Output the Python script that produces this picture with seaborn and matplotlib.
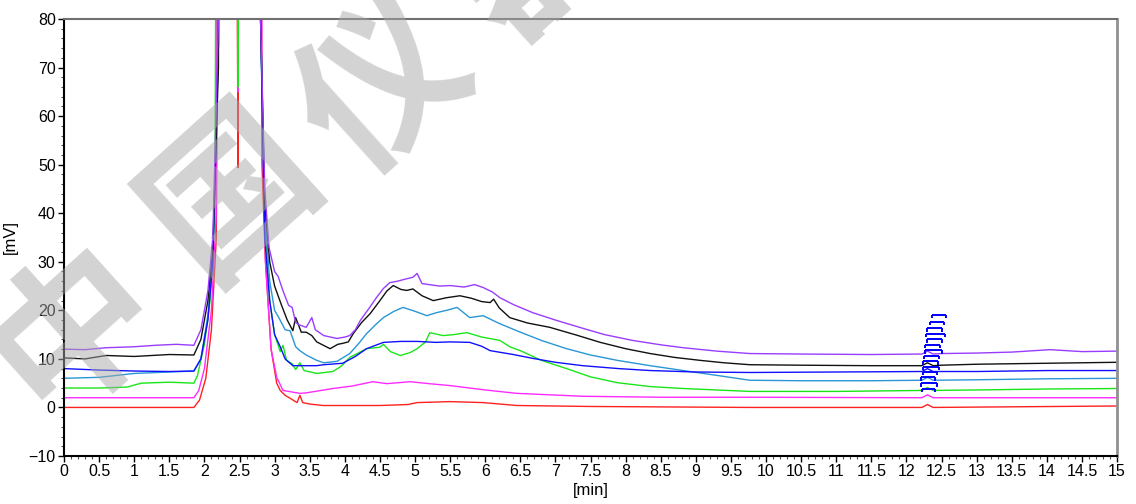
import numpy as np
import pandas as pd
import matplotlib
matplotlib.use("Agg")
import matplotlib.pyplot as plt
from matplotlib.ticker import MultipleLocator
import seaborn as sns

# Chromatogram traces (time in min, signal in mV).
# Peak tops are off-scale, so they are given a large value and clipped by the axis.
purple_t = [0, 0.3, 0.6, 1.0, 1.3, 1.6, 1.85, 1.95, 2.05, 2.12, 2.2, 2.25, 2.45, 2.5, 2.55, 2.76,
            2.8, 2.86, 2.92, 3.0, 3.05, 3.12, 3.2, 3.25, 3.3, 3.35, 3.45, 3.53, 3.58, 3.7, 3.89,
            4.0, 4.07, 4.15, 4.22, 4.35, 4.45, 4.55, 4.64, 4.75, 4.88, 4.97, 5.03, 5.1, 5.2, 5.35,
            5.5, 5.7, 5.85, 5.97, 6.1, 6.21, 6.4, 6.68, 7.0, 7.39, 7.7, 8.1, 8.5, 8.82, 9.3, 9.77,
            10.5, 11.5, 12.22, 12.3, 12.38, 12.5, 13.0, 13.5, 14.05, 14.5, 15.0]
purple_v = [12.0, 11.9, 12.3, 12.5, 12.8, 13.0, 12.8, 16.0, 24.0, 35.0, 80.0, 300, 160, 150, 300, 300,
            80.0, 45.0, 33.0, 28.0, 27.0, 24.0, 21.0, 20.6, 17.5, 17.0, 16.5, 18.5, 16.0, 14.8, 14.2,
            14.5, 14.8, 16.0, 17.9, 20.5, 22.6, 24.5, 25.7, 26.0, 26.5, 26.8, 27.6, 25.5, 25.3, 25.0,
            25.1, 24.8, 25.3, 24.7, 23.8, 22.6, 21.2, 19.5, 18.0, 16.3, 15.0, 13.8, 12.9, 12.3, 11.6, 11.1,
            11.0, 10.9, 11.0, 11.6, 11.0, 11.1, 11.2, 11.4, 11.9, 11.5, 11.6]

black_t = [0, 0.3, 0.6, 1.0, 1.5, 1.85, 1.95, 2.05, 2.12, 2.2, 2.25, 2.45, 2.5, 2.55, 2.76,
           2.8, 2.86, 2.93, 3.0, 3.1, 3.18, 3.26, 3.3, 3.38, 3.45, 3.53, 3.6, 3.79, 3.9, 3.97,
           4.05, 4.12, 4.24, 4.36, 4.5, 4.6, 4.69, 4.8, 4.88, 4.97, 5.1, 5.26, 5.45, 5.64, 5.8,
           5.95, 6.07, 6.12, 6.2, 6.35, 6.6, 6.92, 7.3, 7.64, 8.0, 8.35, 8.7, 9.06, 9.4, 9.77,
           10.5, 11.5, 12.22, 12.3, 12.38, 12.5, 13.0, 13.5, 14.0, 14.5, 15.0]
black_v = [10.2, 10.0, 10.7, 10.5, 10.9, 10.8, 14.0, 22.0, 33.0, 70.0, 300, 160, 150, 300, 300,
           80.0, 42.0, 30.0, 25.0, 21.0, 18.0, 15.8, 18.5, 15.5, 15.5, 14.8, 13.5, 12.1, 13.0, 13.2,
           13.5, 15.2, 17.5, 19.3, 22.0, 24.0, 25.1, 24.3, 24.1, 24.4, 23.0, 22.0, 22.6, 23.0, 22.5,
           21.8, 21.6, 22.3, 20.5, 18.5, 17.4, 16.5, 14.9, 13.4, 12.1, 11.1, 10.3, 9.7, 9.2, 8.8,
           8.7, 8.6, 8.6, 9.2, 8.6, 8.7, 8.9, 9.0, 9.1, 9.2, 9.3]

blue_t = [0, 0.5, 1.0, 1.5, 1.85, 1.95, 2.05, 2.12, 2.2, 2.25, 2.45, 2.5, 2.55, 2.76,
          2.8, 2.86, 2.93, 3.0, 3.08, 3.15, 3.26, 3.45, 3.6, 3.7, 3.97, 4.15, 4.31, 4.55, 4.8,
          5.03, 5.3, 5.5, 5.78, 5.95, 6.07, 6.4, 6.68, 7.0, 7.39, 7.9, 8.35, 9.0, 9.77, 11.0,
          12.22, 12.3, 12.38, 13.0, 14.0, 15.0]
blue_v = [8.0, 7.7, 7.5, 7.4, 7.5, 10.0, 18.0, 30.0, 75.0, 300, 160, 150, 300, 300,
          80.0, 35.0, 22.0, 15.0, 12.5, 10.0, 8.6, 8.6, 8.6, 8.8, 9.1, 10.5, 12.1, 13.4, 13.6,
          13.6, 13.4, 13.5, 13.4, 12.6, 11.7, 10.9, 10.1, 9.3, 8.6, 8.0, 7.6, 7.3, 7.2, 7.3,
          7.4, 8.0, 7.4, 7.4, 7.6, 7.6]

teal_t = [0, 0.5, 1.0, 1.5, 1.85, 1.95, 2.05, 2.12, 2.2, 2.25, 2.45, 2.5, 2.55, 2.76,
          2.8, 2.86, 2.93, 3.0, 3.06, 3.15, 3.22, 3.3, 3.36, 3.45, 3.6, 3.7, 3.89, 4.07, 4.2,
          4.31, 4.45, 4.55, 4.7, 4.83, 5.0, 5.17, 5.3, 5.45, 5.6, 5.78, 5.97, 6.2, 6.45, 6.8,
          7.16, 7.5, 7.88, 8.35, 8.82, 9.3, 9.77, 10.5, 11.5, 12.22, 12.3, 12.38, 13.0, 14.0, 15.0]
teal_v = [6.0, 6.2, 7.0, 7.3, 7.5, 10.0, 19.0, 30.0, 75.0, 300, 160, 150, 300, 300,
          80.0, 40.0, 26.0, 20.0, 18.5, 16.0, 15.8, 12.5, 11.7, 10.8, 9.7, 9.2, 9.5, 11.1, 13.2,
          15.2, 17.2, 18.5, 19.8, 20.6, 19.8, 18.9, 19.5, 20.0, 20.6, 18.5, 18.9, 17.3, 15.8, 13.8,
          12.1, 10.8, 9.7, 8.6, 7.6, 6.6, 5.6, 5.5, 5.5, 5.6, 6.2, 5.6, 5.7, 5.9, 6.0]

green_t = [0, 0.5, 0.9, 1.1, 1.5, 1.85, 1.9, 2.0, 2.08, 2.15, 2.21, 2.4, 2.48, 2.53, 2.76,
           2.8, 2.86, 2.93, 3.0, 3.08, 3.12, 3.17, 3.25, 3.3, 3.36, 3.42, 3.6, 3.83, 3.95, 4.07,
           4.31, 4.5, 4.55, 4.65, 4.79, 4.93, 5.03, 5.15, 5.21, 5.4, 5.55, 5.74, 5.95, 6.21, 6.35,
           6.5, 6.8, 7.16, 7.5, 7.88, 8.35, 8.82, 9.77, 11.0, 12.22, 12.3, 12.38, 13.0, 14.0, 15.0]
green_v = [4.0, 4.0, 4.2, 5.0, 5.2, 5.0, 6.5, 13.0, 22.0, 40.0, 300, 300, 66.0, 300, 300,
           80.0, 38.0, 22.0, 15.0, 11.5, 12.8, 9.7, 9.0, 7.8, 9.2, 7.6, 7.0, 7.4, 8.5, 10.3,
           12.1, 12.4, 13.0, 11.5, 10.7, 11.3, 12.1, 13.5, 15.4, 14.8, 15.0, 15.4, 14.5, 13.8, 12.5,
           11.7, 9.7, 8.0, 6.3, 5.1, 4.3, 3.9, 3.3, 3.3, 3.5, 4.1, 3.5, 3.6, 3.8, 3.9]

magenta_t = [0, 1.0, 1.85, 1.92, 2.0, 2.1, 2.17, 2.22, 2.4, 2.48, 2.55, 2.78,
             2.82, 2.87, 2.95, 3.03, 3.12, 3.36, 3.45, 3.83, 4.1, 4.4, 4.6, 4.93, 5.2, 5.5,
             6.0, 6.45, 7.39, 8.5, 9.77, 12.22, 12.3, 12.38, 15.0]
magenta_v = [2.0, 2.0, 2.0, 3.5, 8.0, 20.0, 40.0, 300, 300, 65.0, 300, 300,
             60.0, 30.0, 12.0, 6.2, 3.5, 2.9, 3.0, 3.9, 4.4, 5.3, 4.9, 5.3, 4.9, 4.5,
             3.6, 2.9, 2.3, 2.1, 2.1, 2.0, 2.6, 2.0, 2.0]

red_t = [0, 1.0, 1.85, 1.93, 2.02, 2.1, 2.17, 2.25, 2.39, 2.48, 2.51, 2.78,
         2.82, 2.87, 2.95, 3.03, 3.08, 3.15, 3.22, 3.32, 3.36, 3.4, 3.5, 3.69, 4.5, 4.9,
         5.03, 5.5, 5.97, 6.45, 7.5, 9.77, 12.22, 12.3, 12.38, 15.0]
red_v = [0.0, 0.0, 0.0, 1.5, 6.0, 16.0, 35.0, 300, 300, 49.4, 300, 300,
         50.0, 30.0, 12.0, 5.0, 3.5, 2.5, 1.9, 1.0, 2.5, 1.0, 0.7, 0.4, 0.4, 0.6,
         1.0, 1.2, 1.0, 0.4, 0.2, 0.0, 0.0, 0.6, 0.0, 0.3]

trace_names = ["purple", "black", "blue", "teal", "green", "magenta", "red"]
trace_colors = ["#9a3cff", "#111111", "#1010ff", "#2996d6", "#19e619", "#ff2aff", "#ff2020"]

# integration bracket markers around the small peak at ~12.3 min
bracket_level = [19.1, 17.6, 16.3, 15.2, 14.0, 12.9, 11.8, 10.6, 9.5, 8.4, 7.3, 6.2, 5.0, 3.9]
bracket_start = [12.36, 12.33, 12.30, 12.28, 12.30, 12.27, 12.26, 12.25, 12.24, 12.24, 12.23, 12.21, 12.21, 12.22]
bracket_end = [12.57, 12.53, 12.51, 12.55, 12.51, 12.48, 12.51, 12.46, 12.45, 12.47, 12.43, 12.41, 12.43, 12.41]

watermark_chars = ["中", "国", "仪", "器"]

all_t = [purple_t, black_t, blue_t, teal_t, green_t, magenta_t, red_t]
all_v = [purple_v, black_v, blue_v, teal_v, green_v, magenta_v, red_v]
frames = []
for name, t, v in zip(trace_names, all_t, all_v):
    frames.append(pd.DataFrame({"time": t, "signal": v, "trace": name}))
df = pd.concat(frames, ignore_index=True)

sns.set_theme(style="white")
plt.rcParams["font.family"] = ["Liberation Sans", "DejaVu Sans"]

fig = plt.figure(figsize=(11.36, 5.04), dpi=100)
ax = fig.add_axes([64 / 1136, 1 - 456 / 504, (1117 - 64) / 1136, (456 - 19) / 504])

sns.lineplot(data=df, x="time", y="signal", hue="trace", hue_order=trace_names[::-1],
             palette=dict(zip(trace_names, trace_colors)), estimator=None, sort=False,
             linewidth=1.0, legend=False, ax=ax)

# brackets
ax.hlines(bracket_level, bracket_start, bracket_end, color="#0000ff", lw=1.4, zorder=5)
ax.vlines(bracket_start, np.array(bracket_level) - 0.7, bracket_level, color="#0000ff", lw=1.4, zorder=5)
ax.vlines(bracket_end, np.array(bracket_level) - 0.7, bracket_level, color="#0000ff", lw=1.4, zorder=5)

ax.set_xlim(0, 15)
ax.set_ylim(-10, 80)
ax.xaxis.set_major_locator(MultipleLocator(0.5))
ax.xaxis.set_minor_locator(MultipleLocator(0.1))
ax.yaxis.set_major_locator(MultipleLocator(10))
ax.yaxis.set_minor_locator(MultipleLocator(2))
ax.set_xticklabels([f"{x:g}" for x in ax.get_xticks()])
ax.tick_params(axis="both", which="major", direction="out", length=4, width=1,
               labelsize=11.5, pad=2, color="black", labelcolor="black",
               bottom=True, left=True)
ax.tick_params(axis="both", which="minor", direction="out", length=2, width=0.8,
               color="#555555", bottom=True, left=True)

for side in ["left", "bottom"]:
    ax.spines[side].set_color("black")
    ax.spines[side].set_linewidth(1.5)
ax.spines["top"].set_color("#707070")
ax.spines["top"].set_linewidth(1.5)
ax.spines["right"].set_color("#909090")
ax.spines["right"].set_linewidth(2)

ax.set_xlabel("[min]", fontsize=12, color="black", labelpad=3)
ax.set_ylabel("[mV]", fontsize=12, color="black", labelpad=8)

# watermark
wm_pos = [(75, 330), (232, 192), (385, 88), (535, -45)]
for ch, (px, py) in zip(watermark_chars, wm_pos):
    fig.text(px / 1136, 1 - py / 504, ch, fontsize=118, rotation=42,
             family=["Noto Sans CJK SC"], weight="bold", color="#a8a8a8", alpha=0.5,
             ha="center", va="center", zorder=20)

fig.savefig("out.png", dpi=100)
